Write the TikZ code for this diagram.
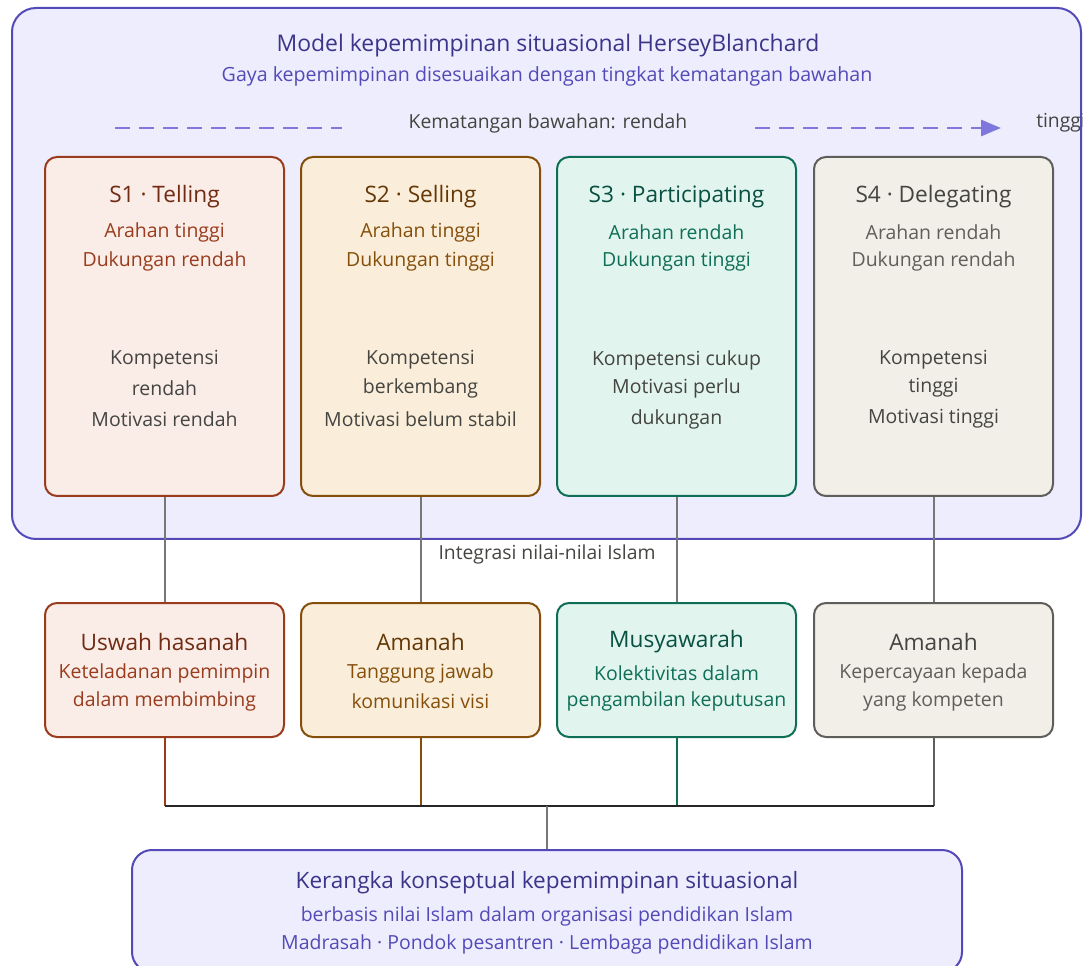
\documentclass[tikz,border=0pt]{standalone}
\usepackage{fontspec}
\setmainfont{Open Sans}
\usetikzlibrary{arrows.meta}
\definecolor{purFill}{HTML}{EEEDFE}
\definecolor{purLine}{HTML}{534AB7}
\definecolor{purDark}{HTML}{3C3489}
\definecolor{purDash}{HTML}{7F77DD}
\definecolor{corFill}{HTML}{FAECE7}
\definecolor{corLine}{HTML}{993C1D}
\definecolor{corDark}{HTML}{712B13}
\definecolor{ambFill}{HTML}{FAEEDA}
\definecolor{ambLine}{HTML}{854F0B}
\definecolor{ambDark}{HTML}{633806}
\definecolor{teaFill}{HTML}{E1F5EE}
\definecolor{teaLine}{HTML}{0F6E56}
\definecolor{teaDark}{HTML}{085041}
\definecolor{gryFill}{HTML}{F1EFE8}
\definecolor{gryLine}{HTML}{5F5E5A}
\definecolor{gryDark}{HTML}{444441}
\definecolor{bodyText}{HTML}{444441}
\definecolor{connGray}{HTML}{777777}
\tikzset{
  px/.style={x=0.75pt,y=-0.75pt},
  card/.style={draw=#1Line,fill=#1Fill,line width=1.5pt,rounded corners=9pt,inner sep=0pt},
  topcard/.style={card=#1,minimum width=179.25pt,minimum height=254.25pt},
  botcard/.style={card=#1,minimum width=179.25pt,minimum height=100.5pt},
  ttl/.style={font=\fontsize{17}{20}\selectfont,text=#1Dark},
  sub/.style={font=\fontsize{14.6}{17}\selectfont,text=#1Line},
  body/.style={font=\fontsize{14.6}{17}\selectfont,text=bodyText},
  small/.style={font=\fontsize{14.5}{17}\selectfont,text=bodyText},
  conn/.style={draw=connGray,line width=1.5pt},
  dashline/.style={draw=purDash,line width=2.2pt,dash pattern=on 11.25pt off 6.75pt},
}
\begin{document}
\begin{tikzpicture}[px]
\useasboundingbox (0,0) rectangle (1083,966);
% outer cluster
\node[draw=purLine,fill=purFill,line width=1.5pt,rounded corners=18pt,inner sep=0pt,
  minimum width=801.75pt,minimum height=398.25pt] (cluster) at (546.5,273.5) {};
\node[font=\fontsize{17.2}{20}\selectfont,text=purDark] (title) at (548,46) {Model kepemimpinan situasional HerseyBlanchard};
\node[font=\fontsize{14.7}{17}\selectfont,text=purLine] (subtitle) at (547,76) {Gaya kepemimpinan disesuaikan dengan tingkat kematangan bawahan};
% maturity axis
\coordinate (dl1) at (115,128);
\coordinate (dl2) at (342,128);
\coordinate (dr1) at (755,128);
\coordinate (dr2) at (1001,128);
\draw[dashline] (dl1) -- (dl2);
\draw[dashline,-{Triangle[length=15pt,width=12pt]}] (dr1) -- (dr2);
\node[small] (matlow) at (548,123) {Kematangan bawahan: rendah};
\node[small,anchor=west,inner sep=0pt] (mathigh) at (1036,123) {tinggi};
% top cards
\node[topcard=cor] (s1) at (164.5,326.5) {};
\node[topcard=amb] (s2) at (420.5,326.5) {};
\node[topcard=tea] (s3) at (676.5,326.5) {};
\node[topcard=gry] (s4) at (933.5,326.5) {};
\node[ttl=cor] (s1t) at (164.5,197) {S1 · Telling};
\node[ttl=amb] (s2t) at (420.5,197) {S2 · Selling};
\node[ttl=tea] (s3t) at (676.5,197) {S3 · Participating};
\node[ttl=gry] (s4t) at (933.5,197) {S4 · Delegating};
\node[sub=cor] (s1a) at (164.5,232) {Arahan tinggi};
\node[sub=cor] (s1b) at (164.5,261) {Dukungan rendah};
\node[sub=amb] (s2a) at (420.5,232) {Arahan tinggi};
\node[sub=amb] (s2b) at (420.5,261) {Dukungan tinggi};
\node[sub=tea] (s3a) at (676.5,232) {Arahan rendah};
\node[sub=tea] (s3b) at (676.5,261) {Dukungan tinggi};
\node[sub=gry] (s4a) at (933.5,232) {Arahan rendah};
\node[sub=gry] (s4b) at (933.5,261) {Dukungan rendah};
\node[body] (s1c) at (164.5,360) {Kompetensi};
\node[body] (s1d) at (164.5,388) {rendah};
\node[body] (s1e) at (164.5,419) {Motivasi rendah};
\node[body] (s2c) at (420.5,360) {Kompetensi};
\node[body] (s2d) at (420.5,388) {berkembang};
\node[body] (s2e) at (420.5,419) {Motivasi belum stabil};
\node[body] (s3c) at (676.5,360) {Kompetensi cukup};
\node[body] (s3d) at (676.5,388) {Motivasi perlu};
\node[body] (s3e) at (676.5,419) {dukungan};
\node[body] (s4c) at (933.5,360) {Kompetensi};
\node[body] (s4d) at (933.5,388) {tinggi};
\node[body] (s4e) at (933.5,419) {Motivasi tinggi};
% bottom cards
\node[botcard=cor] (u1) at (164.5,670) {};
\node[botcard=amb] (u2) at (420.5,670) {};
\node[botcard=tea] (u3) at (676.5,670) {};
\node[botcard=gry] (u4) at (933.5,670) {};
% connectors top -> bottom
\draw[conn] (s1.south) -- (u1.north);
\draw[conn] (s2.south) -- (u2.north);
\draw[conn] (s3.south) -- (u3.north);
\draw[conn] (s4.south) -- (u4.north);
\node[small] (integ) at (547,554) {Integrasi nilai-nilai Islam};
\node[ttl=cor] (u1t) at (164.5,642) {Uswah hasanah};
\node[ttl=amb] (u2t) at (420.5,642) {Amanah};
\node[ttl=tea] (u3t) at (676.5,642) {Musyawarah};
\node[ttl=gry] (u4t) at (933.5,642) {Amanah};
\node[sub=cor] (u1a) at (164.5,673) {Keteladanan pemimpin};
\node[sub=cor] (u1b) at (164.5,701) {dalam membimbing};
\node[sub=amb] (u2a) at (420.5,673) {Tanggung jawab};
\node[sub=amb] (u2b) at (420.5,701) {komunikasi visi};
\node[sub=tea] (u3a) at (676.5,673) {Kolektivitas dalam};
\node[sub=tea] (u3b) at (676.5,701) {pengambilan keputusan};
\node[sub=gry] (u4a) at (933.5,673) {Kepercayaan kepada};
\node[sub=gry] (u4b) at (933.5,701) {yang kompeten};
% final box
\node[draw=purLine,fill=purFill,line width=1.5pt,rounded corners=15pt,inner sep=0pt,
  minimum width=622.5pt,minimum height=91.5pt] (final) at (547,911) {};
\node[font=\fontsize{16.9}{20}\selectfont,text=purDark] (ft) at (547,883) {Kerangka konseptual kepemimpinan situasional};
\node[font=\fontsize{14.6}{17}\selectfont,text=purLine] (fa) at (547,916) {berbasis nilai Islam dalam organisasi pendidikan Islam};
\node[font=\fontsize{14.6}{17}\selectfont,text=purLine] (fb) at (547,944) {Madrasah · Pondok pesantren · Lembaga pendidikan Islam};
% bus
\coordinate (b1) at (164.5,806);
\coordinate (b2) at (420.5,806);
\coordinate (b3) at (676.5,806);
\coordinate (b4) at (933.5,806);
\coordinate (bm) at (547,806);
\draw[draw=corLine,line width=1.5pt] (u1.south) -- (b1);
\draw[draw=ambLine,line width=1.5pt] (u2.south) -- (b2);
\draw[draw=teaLine,line width=1.5pt] (u3.south) -- (b3);
\draw[draw=gryLine,line width=1.5pt] (u4.south) -- (b4);
\draw[draw=black!85,line width=1.9pt] (b1) -- (b4);
\draw[conn] (bm) -- (final.north);
\end{tikzpicture}
\end{document}
